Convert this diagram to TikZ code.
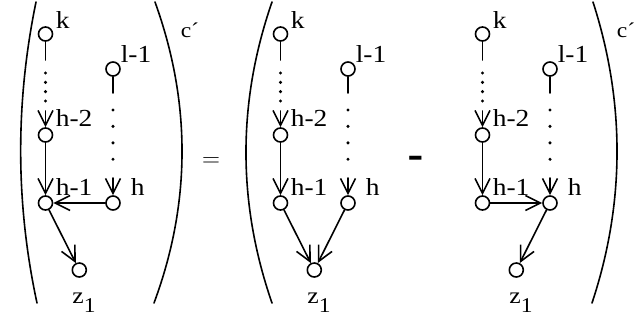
\documentclass[tikz,border=0pt]{standalone}
\usepackage{fontspec}
\setmainfont{Liberation Serif}
\newfontfamily\etiqfont[FakeStretch=1.12]{Liberation Serif}
\newfontfamily\sinserifa{Liberation Sans}
\usetikzlibrary{arrows.meta}

\begin{document}
\begin{tikzpicture}[x=1pt, y=-1pt, line width=1.6pt, line cap=round, line join=round,
  nodo/.style={circle, draw, minimum size=14pt, inner sep=0pt},
  etiq/.style={anchor=base west, inner sep=0pt, font=\etiqfont\fontsize{24.5}{24.5}\selectfont},
  flecha/.style={-{Straight Barb[length=15pt, width=15pt]}},
  puntos/.style={line width=3.4pt, dash pattern=on 0pt off #1},
  puntos/.default=9.33pt]
  \useasboundingbox (0,0) rectangle (637,322);
  % los tres grafos, iguales salvo las aristas de abajo
  \foreach \p/\dx in {a/0, b/235, c/437} {
    \begin{scope}[xshift=\dx]
      \node[nodo] (\p-k) at (45.5,34) {};
      \node[nodo] (\p-h2) at (45.5,135) {};
      \node[nodo] (\p-h1) at (45.5,203) {};
      \node[nodo] (\p-l1) at (113,69) {};
      \node[nodo] (\p-h) at (113,203) {};
      \node[nodo] (\p-z) at (79.3,270) {};
      \coordinate (\p-k1) at (45.5,60);
      \coordinate (\p-k2) at (45.5,73);
      \coordinate (\p-k3) at (45.5,101.5);
      \coordinate (\p-k4) at (45.5,111);
      \coordinate (\p-m1) at (113,93);
      \coordinate (\p-m2) at (113,110);
      \coordinate (\p-m3) at (113,159.7);
      \coordinate (\p-m4) at (113,178);
      % las cadenas de arriba abajo
      \draw (\p-k) -- (\p-k1);
      \draw[puntos] (\p-k2) -- (\p-k3);
      \draw[flecha] (\p-k4) -- (\p-h2);
      \draw[flecha] (\p-h2) -- (\p-h1);
      \draw (\p-l1) -- (\p-m1);
      \draw[puntos=16.43pt] (\p-m2) -- (\p-m3);
      \draw[flecha] (\p-m4) -- (\p-h);
      % las etiquetas
      \node[etiq] (\p-tk) at (55,28) {k};
      \node[etiq] (\p-tl) at (120,62) {l-1};
      \node[etiq] (\p-th2) at (55,126) {h-2};
      \node[etiq] (\p-th1) at (55,195) {h-1};
      \node[etiq] (\p-th) at (130,195) {h};
      \node[etiq, font=\etiqfont\fontsize{23}{23}\selectfont] (\p-tz) at (71.5,303) {z};
      \node[etiq, font=\etiqfont\fontsize{21}{21}\selectfont] (\p-tz1) at (83,312) {1};
    \end{scope}
  }
  % las aristas hacia z
  \draw[flecha] (a-h) -- (a-h1);
  \draw[flecha] (a-h1) -- (a-z);
  \draw[flecha] (b-h1) -- (b-z);
  \draw[flecha] (b-h) -- (b-z);
  \draw[flecha] (c-h1) -- (c-h);
  \draw[flecha] (c-h) -- (c-z);
  % los paréntesis
  \draw (36,2) .. controls (15.4,102) and (15.4,203) .. (37,303);
  \draw (155,2) .. controls (191.2,102) and (191.2,203) .. (154,303);
  \draw (272,2) .. controls (237.3,102) and (237.3,203) .. (272,303);
  \draw (593,2) .. controls (625.2,102) and (625.2,203) .. (592,303);
  % los signos
  \node[etiq, font=\etiqfont\fontsize{21}{21}\selectfont] (ca) at (180,37) {c´};
  \node[etiq, font=\etiqfont\fontsize{21}{21}\selectfont] (cc) at (616,37) {c´};
  \node[anchor=base, inner sep=0pt, font=\fontsize{36}{36}\selectfont] (igual) at (211,166.5) {$=$};
  \node[anchor=base, inner sep=0pt, font={\sinserifa\fontsize{50}{50}\selectfont}] (menos) at (415.5,171) {-};
\end{tikzpicture}
\end{document}
